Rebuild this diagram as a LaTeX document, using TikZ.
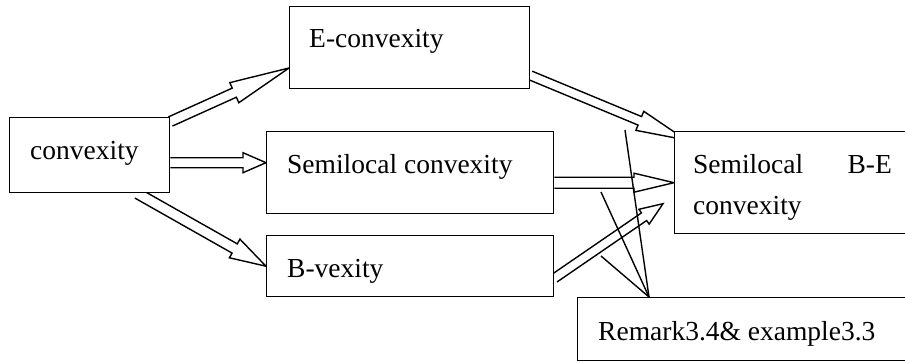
\documentclass[tikz,border=0pt]{standalone}
\usepackage{fontspec}
\setmainfont{Liberation Serif}
\usetikzlibrary{calc,backgrounds}
\tikzset{
  box/.style={draw=black, fill=white, line width=1.4pt, inner sep=0pt, anchor=north west, rectangle},
  lbl/.style={inner sep=0pt, anchor=base west, font=\fontsize{27.5}{38}\selectfont},
  arr/.style={draw=black, line width=1.4pt, line join=miter},
  thin line/.style={draw=black, line width=1.4pt}
}
\newcommand{\blkarrow}[5]{%
  \coordinate (hb) at ($(#2)!#5!(#1)$);
  \draw[arr] ($(#1)!#3!90:(#2)$) -- ($(hb)!#3!90:(#2)$) -- ($(hb)!#4!90:(#2)$) -- (#2)
    -- ($(hb)!#4!-90:(#2)$) -- ($(hb)!#3!-90:(#2)$) -- ($(#1)!#3!-90:(#2)$);
}
\begin{document}
\begin{tikzpicture}[x=1pt,y=-1pt]
\useasboundingbox (0,0) rectangle (905,362);
\clip (0,0) rectangle (905,362);
% boxes
\node[box, minimum width=160pt, minimum height=75pt] (conv) at (9,117) {};
\node[box, minimum width=240pt, minimum height=82pt] (econv) at (289,6) {};
\node[box, minimum width=287pt, minimum height=82pt] (semi) at (266,131) {};
\node[box, minimum width=287pt, minimum height=61pt] (bvex) at (266,235) {};
\node[box, minimum width=260pt, minimum height=102pt] (sbe) at (674,131) {};
\node[box, minimum width=360pt, minimum height=63pt] (rem) at (577,297) {};
% texts
\node[lbl] (convt) at (30,159) {convexity};
\node[lbl] (econvt) at (309,47) {E-convexity};
\node[lbl] (semit) at (287,173) {Semilocal convexity};
\node[lbl] (bvext) at (287,277) {B-vexity};
\node[lbl] (sbet1) at (693,173) {Semilocal};
\node[lbl, anchor=base east] (sbet2) at (892,173) {B-E};
\node[lbl] (sbet3) at (693,214) {convexity};
\node[lbl] (remt) at (598,340) {Remark3.4\& example3.3};
% connector ends
\coordinate (a1s) at ([yshift=-4.5pt]conv.north east);
\coordinate (a1e) at ([yshift=-62pt]econv.north west);
\coordinate (a2s) at ([yshift=-7.5pt]conv.east);
\coordinate (a2e) at ([yshift=10pt]semi.west);
\coordinate (a3s) at ([xshift=-33pt]conv.south east);
\coordinate (a3e) at (bvex.west);
\coordinate (a4s) at ([yshift=14pt]econv.south east);
\coordinate (a4e) at ([xshift=12pt,yshift=-9pt]sbe.north west);
\coordinate (a5s) at ([yshift=-10pt]semi.east);
\coordinate (a5e) at (sbe.west);
\coordinate (a6s) at ([yshift=-12pt]bvex.east);
\coordinate (a6e) at ([xshift=-11pt,yshift=-21pt]sbe.west);
\coordinate (rp) at ([xshift=72pt]rem.north west);
\coordinate (l1) at (601,192);
\coordinate (l2) at (601,256);
\coordinate (l3) at (625,130);
\begin{pgfonlayer}{background}
\blkarrow{a1s}{a1e}{5pt}{11pt}{60pt}
\blkarrow{a2s}{a2e}{5pt}{10pt}{23pt}
\blkarrow{a3s}{a3e}{5.3pt}{10.7pt}{36pt}
\blkarrow{a4s}{a4e}{4.6pt}{10.3pt}{50pt}
\blkarrow{a5s}{a5e}{5.5pt}{9.5pt}{40pt}
\blkarrow{a6s}{a6e}{4.6pt}{9pt}{23pt}
\draw[thin line] (rp) -- (l1);
\draw[thin line] (rp) -- (l2);
\draw[thin line] (rp) -- (l3);
\end{pgfonlayer}
\end{tikzpicture}
\end{document}
